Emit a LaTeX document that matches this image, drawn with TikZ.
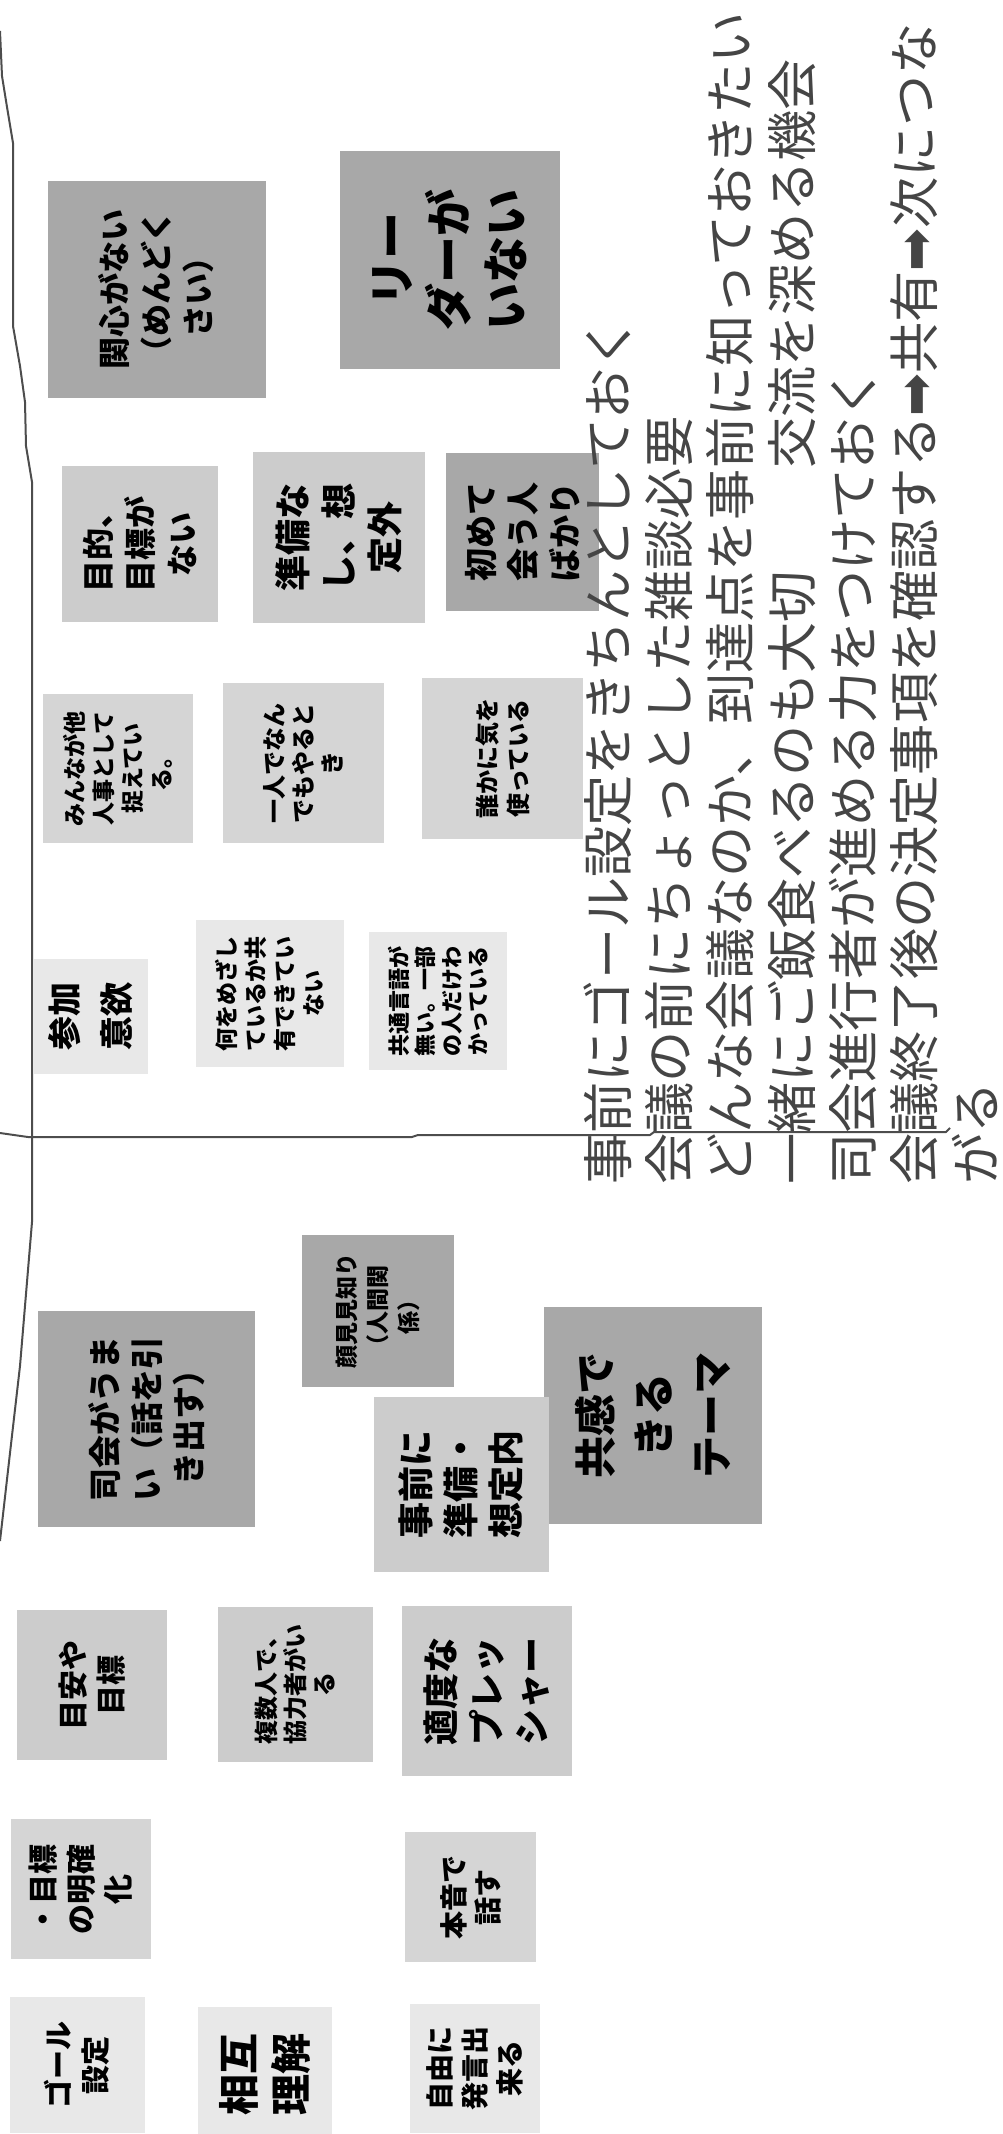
\documentclass[tikz,border=0pt]{standalone}
\usepackage{fontspec}
\newfontfamily\jpfont{Noto Sans CJK JP}
\newfontfamily\symfont{DejaVu Sans}
\definecolor{noteDark}{HTML}{A8A8A8}
\definecolor{noteMid}{HTML}{CCCCCC}
\definecolor{noteLight}{HTML}{D5D5D5}
\definecolor{notePale}{HTML}{E8E8E8}
\definecolor{lineGray}{HTML}{4D4D4D}
\definecolor{memoGray}{HTML}{454545}

\begin{document}
\begin{tikzpicture}[
    x=0.5pt, y=-0.5pt,
    note/.style={rotate=90, align=center, inner sep=0pt, text=black},
    sz/.style 2 args={minimum height=#1*0.5pt, minimum width=#2*0.5pt},
    fs/.style 2 args={font=\jpfont\bfseries\fontsize{#1}{#2}\selectfont},
    dark note/.style={note, fill=noteDark},
    mid note/.style={note, fill=noteMid},
    light note/.style={note, fill=noteLight},
    pale note/.style={note, fill=notePale},
    memo/.style={rotate=90, anchor=west, inner sep=0pt, text=memoGray,
        font=\jpfont\fontsize{25.6}{26}\selectfont},
    wall/.style={draw=lineGray, line width=1pt, line join=round},
]
\useasboundingbox (0,0) rectangle (1002,2134);
\clip (0,0) rectangle (1002,2134);

% === Upper block: problems ===
\node[dark note, sz={218}{217}, fs={16}{21}] (kanshin) at (156.5,289.5) {関心がない\\（めんどく\\さい）};
\node[dark note, sz={220}{218}, fs={23.5}{28.5}] (leader) at (450,260) {リー\\ダーが\\いない};
\node[mid note, sz={156}{156}, fs={16}{21}] (mokuteki) at (140,544) {目的、\\目標が\\ない};
\node[mid note, sz={172}{171}, fs={18}{23}] (junbi) at (339,537.5) {準備な\\し、想\\定外};
\node[dark note, sz={153}{158}, fs={16.5}{21}] (hajimete) at (522.5,532) {初めて\\会う人\\ばかり};

\node[light note, sz={150}{149}, fs={11.5}{14.5}] (tanin) at (117.5,768.5) {みんなが他\\人事として\\捉えてい\\る。};
\node[light note, sz={161}{160}, fs={12}{14.5}] (hitori) at (303.5,763) {一人でなん\\でもやると\\き};
\node[light note, sz={161}{161}, fs={12}{15.5}] (kizukai) at (502.5,758.5) {誰かに気を\\使っている};

\node[pale note, sz={114}{115}, fs={17}{26}] (sanka) at (91,1016.5) {参加\\意欲};
\node[pale note, sz={148}{147}, fs={11.5}{14.5}] (mezasu) at (270,993.5) {何をめざし\\ているか共\\有できてい\\ない};
\node[pale note, sz={138.5}{137.5}, fs={11}{13.25}] (gengo) at (438,1001) {共通言語が\\無い。一部\\の人だけわ\\かっている};

% === Lower block: what helps ===
\node[dark note, sz={217}{216}, fs={16.5}{21}] (shikai) at (146.5,1419) {司会がうま\\い（話を引\\き出す）};
\node[dark note, sz={151.6}{152.5}, fs={11.5}{15.5}] (kao) at (378,1311) {顔見見知り\\（人間関\\係）};
\node[dark note, sz={217.5}{217}, fs={21}{29}] (kyokan) at (653,1415.5) {共感で\\きる\\テーマ};
\node[mid note, sz={175}{175}, fs={18}{22.5}] (jizen) at (461,1484.5) {事前に\\準備・\\想定内};

\node[mid note, sz={150}{150}, fs={15}{19}] (meyasu) at (92,1685) {目安や\\目標};
\node[mid note, sz={155}{155}, fs={12}{14.5}] (kyoryoku) at (295.5,1684.5) {複数人で、\\協力者がい\\る};
\node[mid note, sz={170.5}{170}, fs={18}{22.75}] (pressure) at (487,1691) {適度な\\プレッ\\シャー};

\node[light note, sz={140.5}{140}, fs={15}{18.75}] (meikaku) at (81,1889) {・目標\\の明確\\化};
\node[light note, sz={131}{130}, fs={14}{17}] (honne) at (470.5,1897) {本音で\\話す};

\node[pale note, sz={135}{136}, fs={14.5}{18.5}] (goal) at (77,2065) {ゴール\\設定};
\node[pale note, sz={134.5}{134}, fs={20.5}{26}] (sogo) at (265,2074) {相互\\理解};
\node[pale note, sz={130.5}{129}, fs={14}{17.5}] (jiyu) at (475,2068.5) {自由に\\発言出\\来る};

% === Memo text ===
\node[memo] (memo1) at (608,1185) {事前にゴール設定をきちんとしておく};
\node[memo] (memo2) at (669,1185) {会議の前にちょっとした雑談必要};
\node[memo] (memo3) at (730,1185) {どんな会議なのか、到達点を事前に知っておきたい};
\node[memo] (memo4) at (792,1185) {一緒にご飯食べるのも大切　　交流を深める機会};
\node[memo] (memo5) at (853,1185) {司会進行者が進める力をつけておく};
\node[memo] (memo6) at (914,1185) {会議終了後の決定事項を確認する{\symfont ➡}共有{\symfont ➡}次につな};
\node[memo] (memo7) at (975,1185) {がる};

% === Hand-drawn lines ===
\draw[wall] (0,31) -- (2,76) -- (7,107) -- (13,143) -- (13,326) -- (20,366)
    -- (25,402) -- (26,446) -- (32,482) -- (32,1222) -- (30,1246)
    -- (20,1366) -- (10,1453) -- (0,1541);
\draw[wall] (0,1133) -- (28,1137) -- (412,1137) -- (418,1135) -- (650,1135)
    -- (654,1132) -- (946,1132) -- (950,1128);

\end{tikzpicture}
\end{document}
